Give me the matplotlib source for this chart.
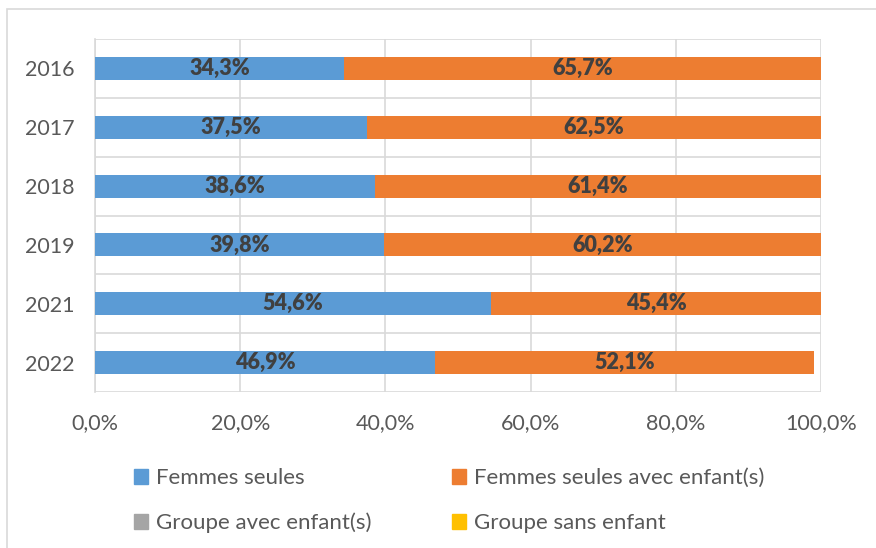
import numpy as np
import matplotlib.pyplot as plt
from matplotlib.patches import Rectangle, Patch

plt.rcParams['font.family'] = ['Lato', 'DejaVu Sans']

# === Data ===
years = ['2016', '2017', '2018', '2019', '2021', '2022']
femmes_seules = [34.3, 37.5, 38.6, 39.8, 54.6, 46.9]
femmes_enfants = [65.7, 62.5, 61.4, 60.2, 45.4, 52.1]
groupe_enfants = [0, 0, 0, 0, 0, 0]
groupe_sans = [0, 0, 0, 0, 0, 0]

series = ['Femmes seules', 'Femmes seules avec enfant(s)',
          'Groupe avec enfant(s)', 'Groupe sans enfant']
colors = ['#5B9BD5', '#ED7D31', '#A5A5A5', '#FFC000']

# === Plot ===
fig = plt.figure(figsize=(8.76, 5.48), dpi=100)
ax = fig.add_axes([95 / 876, 1 - 392 / 548, (821 - 95) / 876, (392 - 39) / 548])

# outer chart border
fig.patches.append(Rectangle((7 / 876, -0.1), 1.1, 1.1 - 9 / 548,
                             transform=fig.transFigure, fill=False,
                             edgecolor='#D9D9D9', linewidth=1.2))

y = np.arange(len(years))
left = np.zeros(len(years))
for vals, col in zip([femmes_seules, femmes_enfants, groupe_enfants, groupe_sans], colors):
    vals = np.array(vals)
    ax.barh(y, vals, left=left, height=0.39, color=col, zorder=3)
    for yi, (l, v) in enumerate(zip(left, vals)):
        if v > 0:
            ax.text(l + v / 2, yi, f'{v:.1f}%'.replace('.', ','), ha='center', va='center',
                    fontsize=15.5, fontweight='heavy', color='#404040', zorder=4)
    left = left + vals

ax.set_xlim(0, 100)
ax.set_ylim(len(years) - 0.5, -0.5)
ax.set_xticks(np.arange(0, 101, 20))
ax.set_xticklabels([f'{t:.1f}%'.replace('.', ',') for t in np.arange(0, 101, 20)])
ax.set_yticks(y)
ax.set_yticklabels(years)
ax.set_yticks(np.arange(-0.5, len(years), 1), minor=True)
ax.tick_params(axis='both', which='both', length=0, labelsize=15.5, labelcolor='#595959', pad=15)
ax.grid(axis='x', which='major', color='#D9D9D9', linewidth=1.2, zorder=0)
ax.grid(axis='y', which='minor', color='#D9D9D9', linewidth=1.2, zorder=0)
for s in ['top', 'right', 'bottom']:
    ax.spines[s].set_visible(False)
ax.spines['left'].set_color('#D9D9D9')
ax.spines['left'].set_linewidth(1.2)

handles = [Patch(color=c) for c in colors]
order = [0, 2, 1, 3]
fig.legend([handles[i] for i in order], [series[i] for i in order], ncol=2,
           loc='upper left', bbox_to_anchor=(114 / 876, 1 - 448 / 548),
           frameon=False, fontsize=16, labelcolor='#595959',
           handlelength=0.65, handleheight=0.65, handletextpad=0.35,
           columnspacing=3.6, labelspacing=1.12)

plt.savefig('out.png', dpi=100)
